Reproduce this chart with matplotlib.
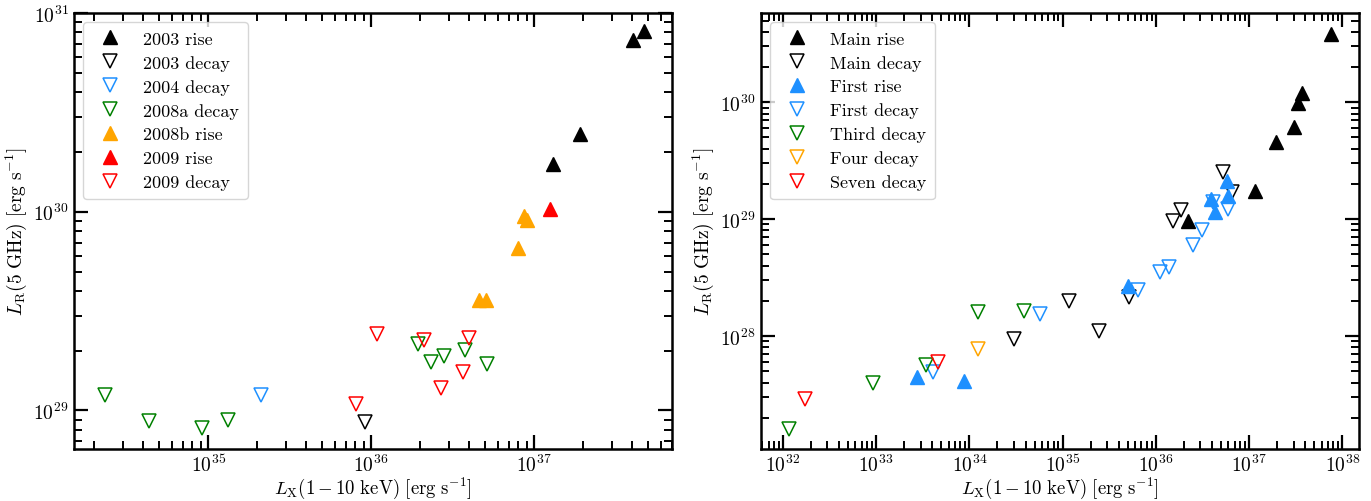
import matplotlib
matplotlib.use('Agg')
import matplotlib.pyplot as plt

plt.rcParams['font.family'] = 'serif'
plt.rcParams['font.serif'] = ['cmr10']
plt.rcParams['mathtext.fontset'] = 'cm'
plt.rcParams['axes.unicode_minus'] = False
plt.rcParams['axes.formatter.use_mathtext'] = True

# left panel: outbursts by year
lx_2003_rise = [4.07e37, 4.75e37, 1.9e37, 1.3e37]
lr_2003_rise = [7.3e30, 8.1e30, 2.45e30, 1.73e30]
lx_2003_decay = [9.2e35]
lr_2003_decay = [8.7e28]
lx_2004_decay = [2.1e35]
lr_2004_decay = [1.2e29]
lx_2008a_decay = [2.32e34, 4.3e34, 9.1e34, 1.32e35, 1.94e36, 2.32e36, 2.79e36, 3.74e36, 5.16e36]
lr_2008a_decay = [1.2e29, 8.9e28, 8.2e28, 9.0e28, 2.15e29, 1.75e29, 1.87e29, 2.01e29, 1.71e29]
lx_2008b_rise = [8.7e36, 9.1e36, 7.98e36, 4.56e36, 5.1e36]
lr_2008b_rise = [9.55e29, 9.1e29, 6.6e29, 3.6e29, 3.6e29]
lx_2009_rise = [1.25e37]
lr_2009_rise = [1.035e30]
lx_2009_decay = [1.09e36, 2.1e36, 4.0e36, 3.64e36, 2.67e36, 8.1e35]
lr_2009_decay = [2.42e29, 2.26e29, 2.31e29, 1.57e29, 1.29e29, 1.08e29]

# right panel: outbursts by order
lx_main_rise = [7.65e37, 3.66e37, 3.39e37, 3.0e37, 1.97e37, 1.17e37, 2.19e36]
lr_main_rise = [3.8e30, 1.19e30, 9.8e29, 6.1e29, 4.6e29, 1.74e29, 9.6e28]
lx_main_decay = [5.2e36, 6.5e36, 1.85e36, 1.51e36, 5.2e35, 1.16e35, 2.44e35, 2.99e34]
lr_main_decay = [2.52e29, 1.7e29, 1.19e29, 9.6e28, 2.15e28, 2.0e28, 1.1e28, 9.4e27]
lx_first_rise = [5.74e36, 3.87e36, 5.88e36, 4.27e36, 4.99e35, 2.73e33, 8.7e33]
lr_first_rise = [2.11e29, 1.48e29, 1.57e29, 1.15e29, 2.67e28, 4.47e27, 4.1e27]
lx_first_decay = [4.07e36, 5.9e36, 3.1e36, 2.48e36, 1.37e36, 1.12e36, 6.38e35, 5.7e34, 4.06e33]
lr_first_decay = [1.4e29, 1.22e29, 8.05e28, 6.0e28, 3.89e28, 3.52e28, 2.47e28, 1.54e28, 4.92e27]
lx_third_decay = [1.16e32, 9.2e32, 3.41e33, 1.23e34, 3.83e34]
lr_third_decay = [1.6e27, 3.96e27, 5.65e27, 1.6e28, 1.64e28]
lx_four_decay = [1.23e34]
lr_four_decay = [7.75e27]
lx_seven_decay = [4.58e33, 1.72e32]
lr_seven_decay = [6.0e27, 2.9e27]

BLUE = '#1E90FF'
MS = 10.5


def rise(ax, x, y, color, label):
    ax.plot(x, y, ls='none', marker='^', ms=MS, color=color, mec=color, label=label)


def decay(ax, x, y, color, label):
    ax.plot(x, y, ls='none', marker='v', ms=MS, mfc='none', mec=color, mew=1.1, label=label)


def style(ax):
    ax.set_xscale('log')
    ax.set_yscale('log')
    ax.tick_params(which='both', direction='in', top=True, right=True, labelsize=14)
    ax.tick_params(which='major', length=10, width=1.6, pad=4)
    ax.tick_params(axis='x', which='major', pad=3)
    ax.tick_params(which='minor', length=6, width=1.4)
    for sp in ax.spines.values():
        sp.set_linewidth(1.8)
    ax.set_xlabel(r'$L_{\rm X}(1-10~{\rm keV})~[{\rm erg~s^{-1}}]$', fontsize=13.5, labelpad=0)
    ax.set_ylabel(r'$L_{\rm R}(5~{\rm GHz})~[{\rm erg~s^{-1}}]$', fontsize=14, labelpad=3)
    ax.legend(loc='upper left', fontsize=13, handletextpad=0.8, labelspacing=0.45,
              borderpad=0.5, markerscale=1.0)


fig = plt.figure(figsize=(13.71, 5.02), dpi=100)
ax1 = fig.add_axes([0.054, 0.1036, 0.436, 0.8685])
ax2 = fig.add_axes([0.555, 0.1036, 0.436, 0.8685])

rise(ax1, lx_2003_rise, lr_2003_rise, 'black', '2003 rise')
decay(ax1, lx_2003_decay, lr_2003_decay, 'black', '2003 decay')
decay(ax1, lx_2004_decay, lr_2004_decay, BLUE, '2004 decay')
decay(ax1, lx_2008a_decay, lr_2008a_decay, 'green', '2008a decay')
rise(ax1, lx_2008b_rise, lr_2008b_rise, 'orange', '2008b rise')
rise(ax1, lx_2009_rise, lr_2009_rise, 'red', '2009 rise')
decay(ax1, lx_2009_decay, lr_2009_decay, 'red', '2009 decay')
ax1.set_xlim(1.5e34, 7e37)
ax1.set_ylim(6.4e28, 1e31)
style(ax1)

rise(ax2, lx_main_rise, lr_main_rise, 'black', 'Main rise')
decay(ax2, lx_main_decay, lr_main_decay, 'black', 'Main decay')
rise(ax2, lx_first_rise, lr_first_rise, BLUE, 'First rise')
decay(ax2, lx_first_decay, lr_first_decay, BLUE, 'First decay')
decay(ax2, lx_third_decay, lr_third_decay, 'green', 'Third decay')
decay(ax2, lx_four_decay, lr_four_decay, 'orange', 'Four decay')
decay(ax2, lx_seven_decay, lr_seven_decay, 'red', 'Seven decay')
ax2.set_xlim(5.8e31, 1.5e38)
ax2.set_ylim(1.08e27, 5.8e30)
style(ax2)

fig.savefig('out.png', dpi=100)
